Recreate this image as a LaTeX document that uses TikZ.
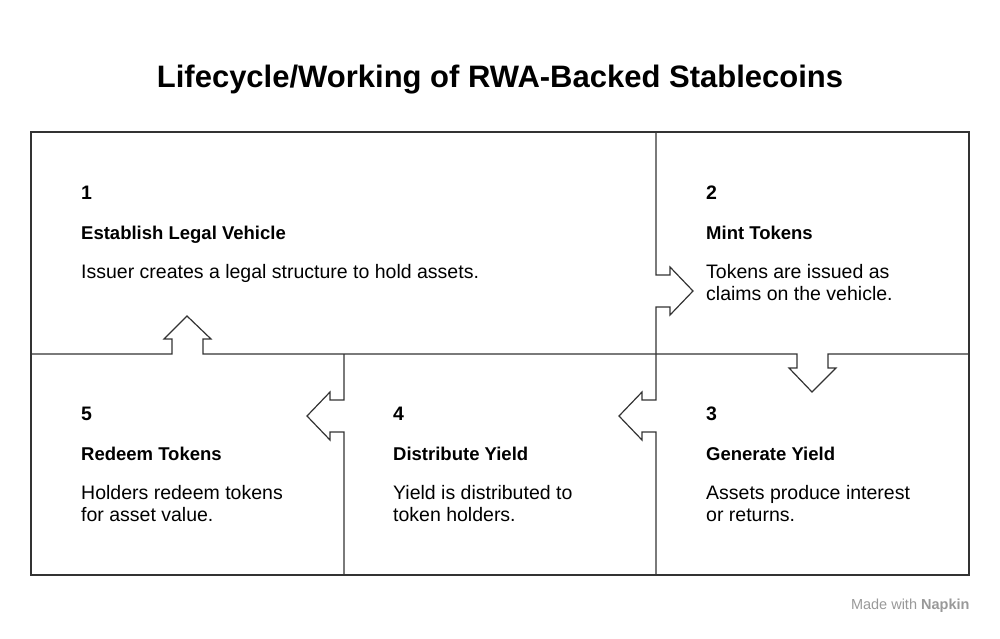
\documentclass[tikz,border=0pt]{standalone}
\usepackage{fontspec}
\setmainfont{Liberation Sans}
\usetikzlibrary{positioning}
\definecolor{linegray}{rgb}{0.2,0.2,0.2}
\definecolor{markgray}{rgb}{0.6,0.6,0.6}

\begin{document}
\begin{tikzpicture}[x=1pt, y=-1pt,
    frame/.style={draw=linegray, line width=1.2pt, line join=miter},
    num/.style={anchor=base west, inner sep=0pt, font=\fontsize{19.5}{22}\selectfont\bfseries},
    head/.style={anchor=base west, inner sep=0pt, font=\fontsize{18.5}{21}\selectfont\bfseries},
    body/.style={anchor=north west, align=left, inner sep=0pt, font=\fontsize{19.5}{22.5}\selectfont}
]
\useasboundingbox (0,0) rectangle (1000,638);

% title
\node[font=\fontsize{31}{36}\selectfont\bfseries] (title) at (500,80) {Lifecycle/Working of RWA-Backed Stablecoins};

% outer frame
\draw[frame] (31,132) rectangle (969,575);

% middle line with up and down notches
\draw[frame] (31,354) -- (172,354) -- (172,339) -- (164,339) -- (187,316) -- (211,339) -- (203,339) -- (203,354)
  -- (797,354) -- (797,368) -- (789,368) -- (812,392) -- (836,368) -- (828,368) -- (828,354) -- (969,354);

% right divider with two notches
\draw[frame] (656,132) -- (656,275) -- (670,275) -- (670,267) -- (693,291) -- (670,315) -- (670,307) -- (656,307)
  -- (656,400) -- (642,400) -- (642,392) -- (619,416) -- (642,440) -- (642,432) -- (656,432) -- (656,575);

% left divider with one notch
\draw[frame] (344,354) -- (344,400) -- (330,400) -- (330,392) -- (307,416) -- (330,440) -- (330,432) -- (344,432) -- (344,575);

% step 1
\node[num] (n1) at (81,199) {1};
\node[head] (h1) at (81,239) {Establish Legal Vehicle};
\node[body] (b1) at (81,264) {Issuer creates a legal structure to hold assets.};
% step 2
\node[num] (n2) at (706,199) {2};
\node[head] (h2) at (706,239) {Mint Tokens};
\node[body] (b2) at (706,264) {Tokens are issued as\\claims on the vehicle.};
% step 3
\node[num] (n3) at (706,420) {3};
\node[head] (h3) at (706,460) {Generate Yield};
\node[body] (b3) at (706,485) {Assets produce interest\\or returns.};
% step 4
\node[num] (n4) at (393,420) {4};
\node[head] (h4) at (393,460) {Distribute Yield};
\node[body] (b4) at (393,485) {Yield is distributed to\\token holders.};
% step 5
\node[num] (n5) at (81,420) {5};
\node[head] (h5) at (81,460) {Redeem Tokens};
\node[body] (b5) at (81,485) {Holders redeem tokens\\for asset value.};

% footer
\node[anchor=east, text=markgray, font=\fontsize{14.5}{17}\selectfont] (mark) at (973,606) {Made with \textbf{Napkin}};
\end{tikzpicture}
\end{document}
